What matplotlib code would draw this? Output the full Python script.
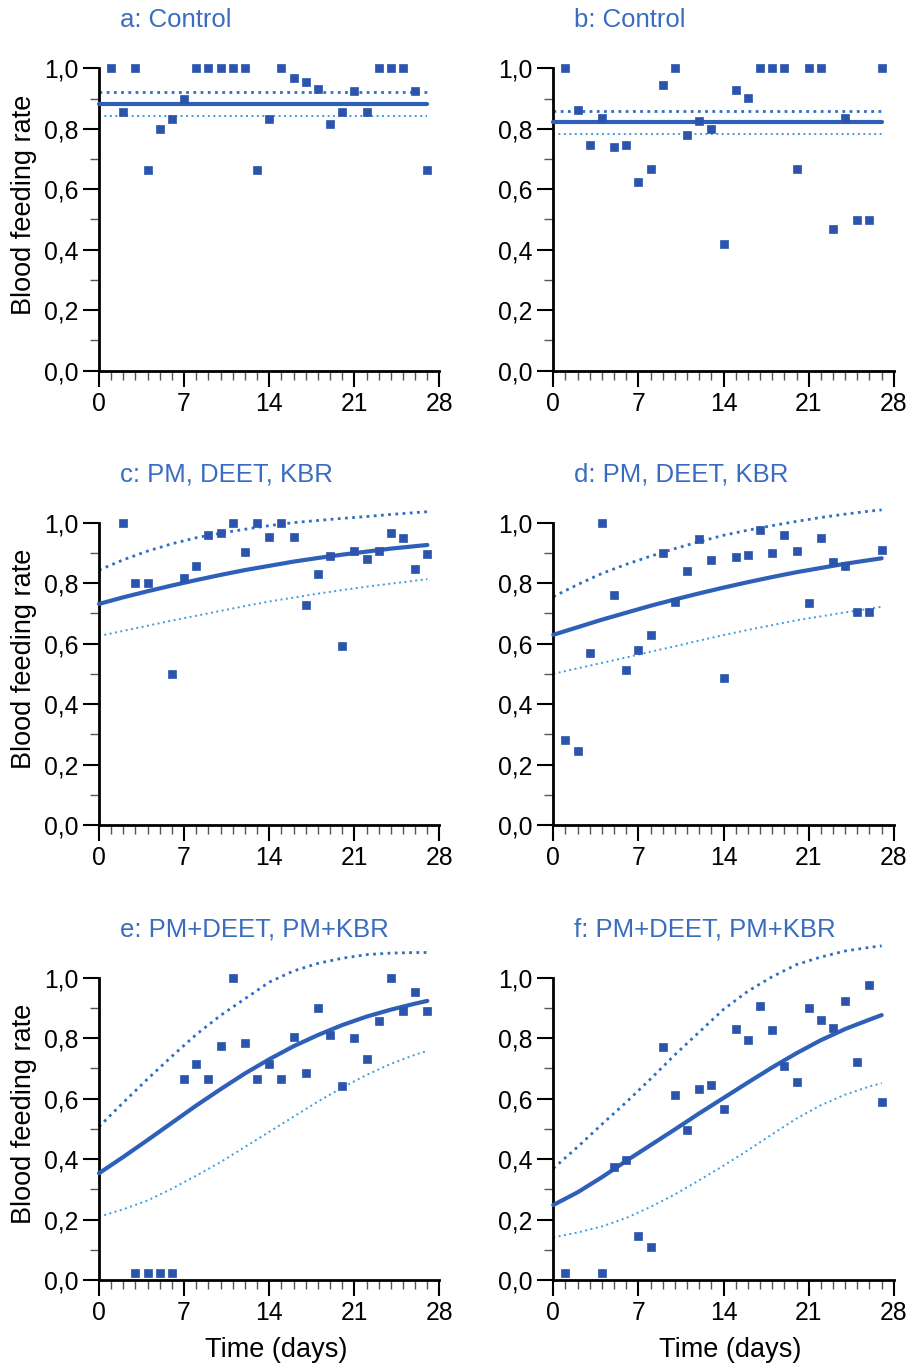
import matplotlib
matplotlib.use("Agg")
import matplotlib.pyplot as plt
from matplotlib.ticker import MultipleLocator, FuncFormatter

plt.rcParams['font.family'] = ['Liberation Sans', 'DejaVu Sans']

# ---------------- data ----------------
titles = ["a: Control", "b: Control", "c: PM, DEET, KBR", "d: PM, DEET, KBR",
          "e: PM+DEET, PM+KBR", "f: PM+DEET, PM+KBR"]

days = list(range(1, 28))

a_rate = [1.00, 0.857, 1.00, 0.664, 0.798, 0.831, 0.897, 1.00, 1.00, 1.00, 1.00, 1.00,
          0.664, 0.831, 1.00, 0.969, 0.954, 0.930, 0.815, 0.857, 0.925, 0.857, 1.00,
          1.00, 1.00, 0.925, 0.664]
b_rate = [1.00, 0.862, 0.747, 0.835, 0.740, 0.745, 0.624, 0.666, 0.944, 1.00, 0.778,
          0.827, 0.799, 0.419, 0.928, 0.903, 1.00, 1.00, 1.00, 0.666, 1.00, 1.00,
          0.468, 0.835, 0.498, 0.498, 1.00]
c_days = [2, 3, 4, 6, 7, 8, 9, 10, 11, 12, 13, 14, 15, 16, 17, 18, 19, 20, 21, 22, 23,
          24, 25, 26, 27]
c_rate = [1.00, 0.80, 0.80, 0.498, 0.817, 0.857, 0.958, 0.965, 1.00, 0.902, 1.00,
          0.954, 1.00, 0.952, 0.728, 0.830, 0.888, 0.592, 0.907, 0.879, 0.907, 0.965,
          0.950, 0.846, 0.896]
d_rate = [0.281, 0.246, 0.568, 1.00, 0.759, 0.514, 0.579, 0.628, 0.899, 0.739, 0.839,
          0.946, 0.877, 0.485, 0.887, 0.894, 0.976, 0.899, 0.958, 0.907, 0.733, 0.948,
          0.870, 0.858, 0.705, 0.705, 0.910]
e_days = list(range(3, 28))
e_rate = [0.022, 0.022, 0.022, 0.022, 0.665, 0.713, 0.665, 0.775, 1.00, 0.784, 0.665,
          0.713, 0.665, 0.803, 0.686, 0.899, 0.810, 0.642, 0.799, 0.730, 0.855, 1.00,
          0.890, 0.954, 0.890]
f_days = [1, 4, 5, 6, 7, 8, 9, 10, 11, 12, 13, 14, 15, 16, 17, 18, 19, 20, 21, 22,
          23, 24, 25, 26, 27]
f_rate = [0.022, 0.022, 0.373, 0.397, 0.147, 0.108, 0.771, 0.611, 0.497, 0.631, 0.645,
          0.567, 0.829, 0.794, 0.907, 0.826, 0.708, 0.656, 0.899, 0.859, 0.833, 0.923,
          0.720, 0.974, 0.590]

# control panels: mean and confidence band (constant)
a_mean, a_hi, a_lo = 0.883, 0.921, 0.842
b_mean, b_hi, b_lo = 0.822, 0.859, 0.782
ctrl_span = [0, 27]

# fitted curves and bands
curve_days = [0, 2, 4, 6, 8, 10, 12, 14, 16, 18, 20, 22, 24, 26, 27]
c_fit = [0.731, 0.753, 0.773, 0.792, 0.810, 0.827, 0.843, 0.857, 0.871, 0.883, 0.894,
         0.904, 0.914, 0.922, 0.926]
c_hi = [0.843, 0.877, 0.906, 0.930, 0.950, 0.965, 0.978, 0.990, 1.000, 1.007, 1.014,
        1.020, 1.027, 1.033, 1.036]
c_lo = [0.625, 0.642, 0.659, 0.676, 0.692, 0.708, 0.724, 0.739, 0.752, 0.765, 0.777,
        0.788, 0.798, 0.808, 0.813]
d_fit = [0.629, 0.654, 0.679, 0.702, 0.725, 0.746, 0.766, 0.785, 0.803, 0.820, 0.836,
         0.850, 0.864, 0.876, 0.882]
d_hi = [0.755, 0.795, 0.832, 0.862, 0.889, 0.914, 0.937, 0.958, 0.975, 0.990, 1.004,
        1.017, 1.028, 1.038, 1.042]
d_lo = [0.500, 0.518, 0.536, 0.554, 0.573, 0.591, 0.610, 0.628, 0.645, 0.661, 0.677,
        0.690, 0.703, 0.715, 0.722]
e_fit = [0.353, 0.407, 0.463, 0.520, 0.577, 0.631, 0.683, 0.730, 0.773, 0.810, 0.843,
         0.871, 0.894, 0.914, 0.923]
e_hi = [0.507, 0.587, 0.665, 0.740, 0.812, 0.875, 0.930, 0.985, 1.022, 1.047, 1.064,
        1.076, 1.081, 1.083, 1.083]
e_lo = [0.209, 0.234, 0.263, 0.302, 0.345, 0.390, 0.440, 0.490, 0.540, 0.590, 0.636,
        0.678, 0.715, 0.745, 0.758]
f_fit = [0.248, 0.290, 0.340, 0.394, 0.446, 0.498, 0.551, 0.602, 0.653, 0.703, 0.750,
         0.793, 0.830, 0.861, 0.876]
f_hi = [0.369, 0.440, 0.515, 0.588, 0.665, 0.745, 0.820, 0.895, 0.955, 1.003, 1.043,
        1.068, 1.088, 1.100, 1.105]
f_lo = [0.141, 0.157, 0.177, 0.205, 0.242, 0.283, 0.330, 0.378, 0.429, 0.482, 0.534,
        0.578, 0.613, 0.640, 0.651]

# ---------------- style ----------------
MK = "#2b55ad"
FIT = "#2f60b8"
HI = "#2d6fc4"
LO = "#3a9de0"
TITLE_C = "#3a6cc0"

W, H = 909, 1368
fig = plt.figure(figsize=(W / 100, H / 100), dpi=100)

col_left = [99, 553.3]
row_bottom = [370.7, 825, 1280]
ax_w = 340.5
ax_h = 302.4

panels = [
    (days, a_rate, ("const", a_mean, a_hi, a_lo)),
    (days, b_rate, ("const", b_mean, b_hi, b_lo)),
    (c_days, c_rate, ("curve", c_fit, c_hi, c_lo)),
    (days, d_rate, ("curve", d_fit, d_hi, d_lo)),
    (e_days, e_rate, ("curve", e_fit, e_hi, e_lo)),
    (f_days, f_rate, ("curve", f_fit, f_hi, f_lo)),
]

for i, (xd, yd, fit) in enumerate(panels):
    r, c = divmod(i, 2)
    l = col_left[c] / W
    b = 1 - row_bottom[r] / H
    ax = fig.add_axes([l, b, ax_w / W, ax_h / H])
    ax.set_xlim(0, 28)
    ax.set_ylim(0, 1.0)
    for s in ("top", "right"):
        ax.spines[s].set_visible(False)
    for s in ("left", "bottom"):
        ax.spines[s].set_linewidth(2.0)
    ax.xaxis.set_major_locator(MultipleLocator(7))
    ax.xaxis.set_minor_locator(MultipleLocator(1))
    ax.yaxis.set_major_locator(MultipleLocator(0.2))
    ax.yaxis.set_minor_locator(MultipleLocator(0.1))
    ax.yaxis.set_major_formatter(FuncFormatter(lambda v, p: f"{v:.1f}".replace(".", ",")))
    ax.tick_params(axis="both", which="major", length=11.5, width=1.5, labelsize=17.8,
                   pad=3.5)
    ax.tick_params(axis="both", which="minor", length=6.5, width=1.0, color="#555555")

    if fit[0] == "const":
        _, m, hi, lo = fit
        ax.plot(ctrl_span, [hi, hi], color=HI, lw=2.0, ls=(0, (1, 1.6)), clip_on=False, zorder=2)
        ax.plot(ctrl_span, [lo, lo], color=LO, lw=1.4, ls=(0, (1, 1.8)), clip_on=False, zorder=2)
        ax.plot(ctrl_span, [m, m], color=FIT, lw=3.0, solid_capstyle="round", clip_on=False, zorder=3)
    else:
        _, fv, hv, lv = fit
        ax.plot(curve_days, hv, color=HI, lw=2.0, ls=(0, (1, 1.6)), clip_on=False, zorder=2)
        ax.plot(curve_days, lv, color=LO, lw=1.4, ls=(0, (1, 1.8)), clip_on=False, zorder=2)
        ax.plot(curve_days, fv, color=FIT, lw=3.0, solid_capstyle="round", clip_on=False, zorder=3)

    ax.plot(xd, yd, ls="none", marker="s", ms=6.2, mfc=MK, mec=MK, mew=0.5,
            clip_on=False, zorder=4)

    ax.text(0.062, 1.0 + 48 / ax_h, titles[i], transform=ax.transAxes, ha="left",
            va="center", fontsize=18.5, color=TITLE_C)
    if c == 0:
        ax.set_ylabel("Blood feeding rate", fontsize=19.5)
        ax.yaxis.set_label_coords(-62 / ax_w, 0.55)
    if r == 2:
        ax.set_xlabel("Time (days)", fontsize=19.5)
        ax.xaxis.set_label_coords(0.52, -57 / ax_h)

fig.savefig("out.png", dpi=100, facecolor="white")
